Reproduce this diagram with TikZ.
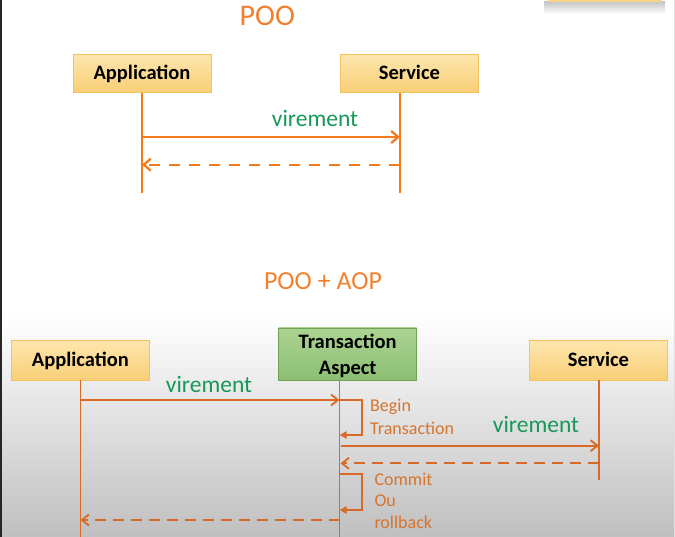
\documentclass[tikz,border=0pt]{standalone}
\usepackage{fontspec}
\setmainfont{Carlito}
\usetikzlibrary{arrows.meta}
\definecolor{orT}{HTML}{F57A1C}
\definecolor{orB}{HTML}{D66A26}
\definecolor{orTxt}{HTML}{D7742F}
\definecolor{ttl}{HTML}{F2802E}
\definecolor{grn}{HTML}{159858}
\definecolor{boxT}{HTML}{FDE6AE}
\definecolor{boxB}{HTML}{F8CE76}
\definecolor{boxBd}{HTML}{F4C25E}
\definecolor{gT}{HTML}{ABD391}
\definecolor{gB}{HTML}{8CBF74}
\definecolor{gBd}{HTML}{6FA157}
\begin{document}
\begin{tikzpicture}[x=1pt,y=-1pt,
  box/.style={draw=boxBd,line width=0.8pt,top color=boxT,bottom color=boxB,inner sep=0pt,
    font=\fontsize{20.5}{25.3}\selectfont\bfseries,align=center,text=black,
    text height=13pt,text depth=0pt},
  gbox/.style={box,draw=gBd,top color=gT,bottom color=gB},
  boxtxt/.style={inner sep=0pt,font=\fontsize{20.5}{25.3}\selectfont\bfseries,align=center,text=black},
  lifeT/.style={draw=orT,line width=1.3pt},
  lifeB/.style={draw=orB,line width=1.5pt},
  msgT/.style={draw=orT,line width=2.3pt,-{Straight Barb[length=7pt,width=12pt]}},
  retT/.style={msgT,dash pattern=on 11pt off 9pt},
  msgB/.style={draw=orB,line width=1.8pt,-{Straight Barb[length=7pt,width=11pt]}},
  retB/.style={msgB,dash pattern=on 11pt off 7pt},
  loopB/.style={draw=orB,line width=1.8pt,-{Triangle[length=7pt,width=7pt]}},
  vlab/.style={anchor=base,text=grn,font=\fontsize{23.5}{28}\selectfont,inner sep=0pt},
  olab/.style={anchor=base west,text=orTxt,font=\fontsize{18}{22}\selectfont,inner sep=0pt},
  ttlab/.style={anchor=base,text=ttl,inner sep=0pt}
]
\useasboundingbox (0,0) rectangle (675,537);
% background
\fill[white] (0,0) rectangle (675,537);
\shade[top color=white,bottom color=black!25] (0,315) rectangle (675,537);
\fill[black!85] (0,0) rectangle (2,537);
\fill[black!12] (673.5,0) rectangle (675,537);
% partial box at top right
\shade[top color=black!22,bottom color=white] (544,2) rectangle (665,14);
\fill[boxB!85!white] (547,-3) rectangle (662,2);

% ===== POO =====
\node[ttlab,font=\fontsize{30}{34}\selectfont] (t1) at (267.3,25.3) {POO};
\node[box,minimum width=138pt,minimum height=38.5pt] (app1) at (142,73.5) {Application};
\node[box,minimum width=138.7pt,minimum height=38.5pt] (srv1) at (409.4,73.5) {Service};
\coordinate (a1b) at (142,192.7);
\coordinate (s1b) at (400,192.7);
\coordinate (a1m) at (142,137);
\coordinate (s1m) at (400,137);
\coordinate (a1r) at (142,164.7);
\coordinate (s1r) at (400,164.7);
\draw[lifeT] (app1.south -| a1b) -- (a1b);
\draw[lifeT] (srv1.south -| s1b) -- (s1b);
\draw[msgT] (a1m) -- (s1m);
\draw[retT] (s1r) -- (a1r);
\node[vlab] (v1) at (315,126.7) {virement};

% ===== POO + AOP =====
\node[ttlab,font=\fontsize{26}{30}\selectfont] (t2) at (323,289.3) {POO + AOP};
\node[box,minimum width=137.7pt,minimum height=39.3pt] (app2) at (80.3,360.4) {Application};
\node[gbox,minimum width=138pt,minimum height=52pt] (ta) at (347.7,354) {};
\node[boxtxt] (tatxt) at ([yshift=-2pt]ta.center) {Transaction\\Aspect};
\node[box,minimum width=138.4pt,minimum height=39.3pt] (srv2) at (598.5,360.4) {Service};

\coordinate (a2b) at (80.5,537.5);
\coordinate (tab) at (339.5,537.5);
\coordinate (s2b) at (599,480);
\draw[lifeB] (app2.south -| a2b) -- (a2b);
\draw[lifeB] (ta.south -| tab) -- (tab);
\draw[lifeB] (srv2.south -| s2b) -- (s2b);

% virement 1
\coordinate (a2m) at (80.5,400);
\coordinate (tam) at (339.5,400);
\draw[msgB] (a2m) -- (tam);
\node[vlab] (v2) at (209,392.7) {virement};

% loop 1
\coordinate (l1a) at (362.3,400);
\coordinate (l1b) at (362.3,435);
\coordinate (l1c) at (339.5,435);
\draw[loopB] (tam) -- (l1a) -- (l1b) -- (l1c);
\node[olab] (bt1) at (370,411.7) {Begin};
\node[olab] (bt2) at (370,434) {Transaction};

% virement 2
\coordinate (tam2) at (340.5,445.7);
\coordinate (s2m) at (599,445.7);
\draw[msgB] (tam2) -- (s2m);
\node[vlab] (v3) at (536,432.7) {virement};

% return from service
\coordinate (s2r) at (599,463.3);
\coordinate (tar) at (340.5,463.3);
\draw[retB] (s2r) -- (tar);

% loop 2
\coordinate (l2s) at (339.5,474);
\coordinate (l2a) at (362.3,474);
\coordinate (l2b) at (362.3,510);
\coordinate (l2c) at (339.5,510);
\draw[loopB] (l2s) -- (l2a) -- (l2b) -- (l2c);
\node[olab] (cr1) at (374.3,485) {Commit};
\node[olab] (cr2) at (374.3,506.7) {Ou};
\node[olab] (cr3) at (374.3,528.3) {rollback};

% return to application
\coordinate (tar2) at (339.5,520);
\coordinate (a2r) at (80.5,520);
\draw[retB] (tar2) -- (a2r);
\end{tikzpicture}
\end{document}
